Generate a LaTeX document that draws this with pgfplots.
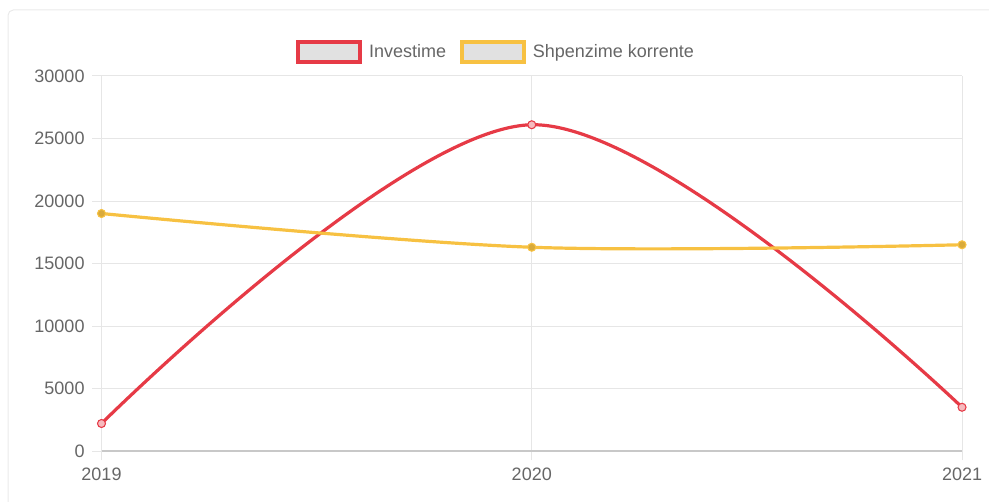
\documentclass[border=0pt]{standalone}
\usepackage{pgfplots}
\pgfplotsset{compat=1.18}
\usepackage{fontspec}
\setmainfont{Liberation Sans}

\definecolor{invred}{RGB}{230,58,70}
\definecolor{shpyel}{RGB}{247,193,66}
\definecolor{ticktext}{RGB}{102,102,102}
\definecolor{gridc}{RGB}{230,230,230}
\definecolor{axisc}{RGB}{200,200,200}
\definecolor{boxfill}{RGB}{225,225,225}
\definecolor{cardc}{RGB}{234,234,234}

% 1px of the reference = 0.75pt
\begin{document}
\begin{tikzpicture}
\useasboundingbox (0,0) rectangle (741.75pt,375.75pt);
\clip (0,0) rectangle (741.75pt,375.75pt);
\draw[cardc, line width=0.75pt, rounded corners=4pt] (6pt,-20pt) rectangle (770pt,368.25pt);
\begin{axis}[
    at={(76.125pt,37.5pt)}, anchor=south west,
    scale only axis,
    width=645.4pt, height=281.25pt,
    xmin=0, xmax=2, ymin=0, ymax=30000,
    xtick={0,1,2}, xticklabels={2019,2020,2021},
    ytick={0,5000,...,30000},
    scaled y ticks=false,
    /pgf/number format/assume math mode=true,
    yticklabel style={/pgf/number format/fixed, /pgf/number format/1000 sep={}, xshift=-2.2pt},
    xticklabel style={yshift=-2.2pt},
    axis x line*=bottom, axis y line*=left,
    x axis line style={draw=axisc, line width=0.9pt, -},
    y axis line style={draw=gridc, line width=0.75pt, -},
    grid=major,
    major grid style={draw=gridc, line width=0.75pt},
    tick align=outside, major tick length=7pt,
    tick style={draw=gridc, line width=0.75pt},
    font=\fontsize{13.5pt}{16pt}\selectfont,
    tick label style={text=ticktext},
    legend columns=-1,
    legend style={
        at={(0.459,1.064)}, anchor=center,
        draw=none, fill=none,
        font=\fontsize{13.5pt}{16pt}\selectfont,
        text=ticktext,
        /tikz/every even column/.append style={column sep=8.5pt},
        inner sep=0pt,
    },
    legend image code/.code={
        \draw[#1, fill=boxfill, line width=3pt] (0pt,-7.5pt) rectangle (46.5pt,7.5pt);
        \path[draw=none, fill=none] (0pt,0pt) -- (51pt,0pt);
    },
]
\addplot[invred, line width=2.4pt, smooth, tension=0.55,
    mark=*, mark size=3pt,
    mark options={draw=invred, line width=0.8pt, fill=invred!35}]
    coordinates {(0,2200) (1,26100) (2,3500)};
\addplot[shpyel, line width=2.4pt, smooth, tension=0.55,
    mark=*, mark size=3pt,
    mark options={draw=shpyel, line width=0.8pt, fill=shpyel!80!black!60!shpyel}]
    coordinates {(0,19000) (1,16300) (2,16500)};
\legend{Investime, Shpenzime korrente}
\end{axis}
\end{tikzpicture}
\end{document}
